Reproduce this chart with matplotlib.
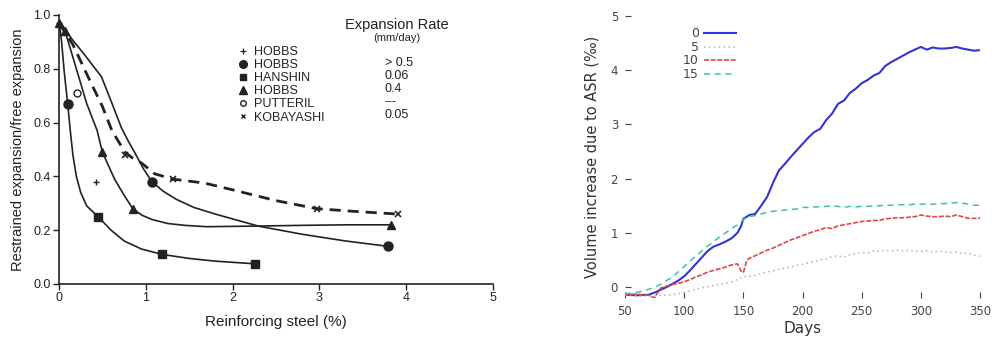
import numpy as np
import matplotlib.pyplot as plt
from matplotlib.lines import Line2D

# ---- left panel: restrained expansion vs reinforcing steel ----
# measured points
hobbs_plus_x = [0.0, 0.43]
hobbs_plus_y = [0.97, 0.38]
hobbs_circ_x = [0.10, 1.07, 3.79]
hobbs_circ_y = [0.67, 0.38, 0.14]
hanshin_x = [0.45, 1.19, 2.26]
hanshin_y = [0.25, 0.11, 0.075]
hobbs_tri_x = [0.0, 0.07, 0.50, 0.85, 3.82]
hobbs_tri_y = [0.97, 0.94, 0.49, 0.28, 0.22]
putteril_x = [0.21]
putteril_y = [0.71]
koba_x = [0.76, 1.31, 2.97, 3.90]
koba_y = [0.48, 0.39, 0.28, 0.26]

# hand-drawn fit curves
curve_sq_x = [0.0, 0.03, 0.06, 0.10, 0.13, 0.16, 0.20, 0.25, 0.32, 0.45, 0.60, 0.75, 0.95, 1.19, 1.50, 1.80, 2.26]
curve_sq_y = [0.98, 0.90, 0.79, 0.67, 0.57, 0.48, 0.40, 0.34, 0.29, 0.25, 0.20, 0.16, 0.13, 0.11, 0.095, 0.085, 0.075]
curve_tri_x = [0.0, 0.07, 0.20, 0.32, 0.44, 0.50, 0.57, 0.64, 0.75, 0.85, 0.96, 1.07, 1.25, 1.45, 1.70, 2.20, 2.80, 3.30, 3.82]
curve_tri_y = [0.98, 0.94, 0.80, 0.67, 0.57, 0.49, 0.44, 0.39, 0.33, 0.28, 0.255, 0.24, 0.225, 0.218, 0.213, 0.215, 0.218, 0.22, 0.22]
curve_up_x = [0.0, 0.15, 0.30, 0.49, 0.60, 0.72, 0.80, 0.87, 0.97, 1.07, 1.20, 1.35, 1.55, 1.80, 2.30, 2.80, 3.30, 3.79]
curve_up_y = [0.98, 0.91, 0.85, 0.77, 0.68, 0.58, 0.53, 0.49, 0.43, 0.38, 0.345, 0.315, 0.285, 0.26, 0.215, 0.185, 0.16, 0.14]
curve_da_x = [0.0, 0.16, 0.35, 0.50, 0.61, 0.76, 0.84, 0.95, 1.10, 1.31, 1.68, 2.00, 2.50, 2.97, 3.40, 3.90]
curve_da_y = [0.97, 0.89, 0.76, 0.66, 0.57, 0.49, 0.47, 0.45, 0.41, 0.39, 0.375, 0.35, 0.31, 0.28, 0.27, 0.26]

legend_names = ["HOBBS", "HOBBS", "HANSHIN", "HOBBS", "PUTTERIL", "KOBAYASHI"]
legend_rates = ["", "> 0.5", "0.06", "0.4", "---", "0.05"]

# ---- right panel: volume increase due to ASR ----
days = [50, 60, 70, 75, 80, 85, 90, 95, 100, 105, 110, 115, 120, 125, 130, 135, 140, 145, 148, 150,
        153, 155, 160, 165, 170, 175, 180, 185, 190, 195, 200, 205, 210, 215, 220, 225, 230, 235,
        240, 245, 250, 255, 260, 265, 270, 275, 280, 285, 290, 295, 300, 305, 310, 315, 320, 325,
        330, 335, 340, 345, 350]
vol_0 = [-0.14, -0.15, -0.14, -0.10, -0.05, 0.00, 0.06, 0.12, 0.20, 0.31, 0.43, 0.55, 0.67, 0.75, 0.79, 0.84, 0.90, 1.00, 1.12, 1.26,
         1.30, 1.33, 1.35, 1.50, 1.66, 1.92, 2.15, 2.27, 2.40, 2.52, 2.64, 2.76, 2.86, 2.92, 3.08, 3.20, 3.38, 3.44,
         3.58, 3.66, 3.76, 3.82, 3.90, 3.95, 4.08, 4.15, 4.21, 4.27, 4.33, 4.38, 4.43, 4.38, 4.42, 4.40, 4.40, 4.41,
         4.43, 4.40, 4.38, 4.36, 4.37]
vol_5 = [-0.15, -0.16, -0.16, -0.16, -0.15, -0.15, -0.14, -0.12, -0.10, -0.07, -0.04, -0.01, 0.01, 0.03, 0.05, 0.07, 0.10, 0.14, 0.17, 0.20,
         0.19, 0.20, 0.22, 0.25, 0.28, 0.30, 0.33, 0.35, 0.37, 0.40, 0.42, 0.45, 0.47, 0.50, 0.52, 0.56, 0.58, 0.55,
         0.60, 0.62, 0.64, 0.63, 0.67, 0.66, 0.68, 0.67, 0.68, 0.67, 0.68, 0.66, 0.66, 0.67, 0.65, 0.66, 0.65, 0.64,
         0.64, 0.62, 0.63, 0.59, 0.57]
vol_10 = [-0.13, -0.13, -0.15, -0.20, -0.02, 0.02, 0.05, 0.07, 0.10, 0.14, 0.19, 0.23, 0.28, 0.31, 0.34, 0.37, 0.41, 0.43, 0.30, 0.27,
          0.50, 0.53, 0.58, 0.63, 0.68, 0.72, 0.77, 0.82, 0.87, 0.91, 0.95, 0.99, 1.03, 1.06, 1.10, 1.08, 1.13, 1.15,
          1.17, 1.19, 1.21, 1.22, 1.23, 1.23, 1.26, 1.27, 1.28, 1.28, 1.29, 1.30, 1.33, 1.31, 1.30, 1.30, 1.31, 1.30,
          1.33, 1.30, 1.27, 1.27, 1.27]
vol_15 = [-0.12, -0.10, -0.04, 0.00, 0.05, 0.12, 0.19, 0.28, 0.38, 0.48, 0.58, 0.67, 0.76, 0.84, 0.93, 1.00, 1.08, 1.15, 1.20, 1.25,
          1.28, 1.30, 1.32, 1.35, 1.38, 1.40, 1.41, 1.42, 1.43, 1.44, 1.47, 1.47, 1.48, 1.48, 1.49, 1.50, 1.49, 1.47,
          1.49, 1.48, 1.49, 1.49, 1.50, 1.50, 1.51, 1.51, 1.52, 1.52, 1.52, 1.53, 1.53, 1.53, 1.53, 1.54, 1.54, 1.55,
          1.56, 1.55, 1.53, 1.51, 1.51]

fig = plt.figure(figsize=(9.95, 3.42), dpi=100)
W, H = 995.0, 342.0

# left axes
ax1 = fig.add_axes([59 / W, 58 / H, 434 / W, 269 / H])
lf = "Liberation Sans"
k = "#222222"
ax1.plot(curve_sq_x, curve_sq_y, color=k, lw=1.2)
ax1.plot(curve_tri_x, curve_tri_y, color=k, lw=1.2)
ax1.plot(curve_up_x, curve_up_y, color=k, lw=1.2)
ax1.plot(curve_da_x, curve_da_y, color=k, lw=2.0, dashes=(4, 2.5))
ax1.plot(hobbs_plus_x, hobbs_plus_y, ls="none", marker="+", ms=5, mew=1.0, color=k, clip_on=False)
ax1.plot(hobbs_circ_x, hobbs_circ_y, ls="none", marker="o", ms=6.5, color=k, clip_on=False)
ax1.plot(hanshin_x, hanshin_y, ls="none", marker="s", ms=6, color=k, clip_on=False)
ax1.plot(hobbs_tri_x, hobbs_tri_y, ls="none", marker="^", ms=6, color=k, clip_on=False)
ax1.plot(putteril_x, putteril_y, ls="none", marker="o", ms=5, mfc="white", mec=k, mew=1.0)
ax1.plot(koba_x, koba_y, ls="none", marker="x", ms=4.5, mew=1.2, color=k, clip_on=False)

ax1.set_xlim(0, 5)
ax1.set_ylim(0, 1.0)
ax1.set_xticks([0, 1, 2, 3, 4, 5])
ax1.set_yticks([0.0, 0.2, 0.4, 0.6, 0.8, 1.0])
ax1.set_yticklabels(["0.0", "0.2", "0.4", "0.6", "0.8", "1.0"])
for s in ["top", "right"]:
    ax1.spines[s].set_visible(False)
for s in ["left", "bottom"]:
    ax1.spines[s].set_linewidth(1.2)
    ax1.spines[s].set_color(k)
ax1.tick_params(length=4, width=1.0, colors=k, labelsize=9, pad=2)
for lab in ax1.get_xticklabels() + ax1.get_yticklabels():
    lab.set_fontfamily(lf)
ax1.set_xlabel("Reinforcing steel (%)", fontsize=11, family=lf, color=k, labelpad=8)
ax1.set_ylabel("Restrained expansion/free expansion", fontsize=10.5, family=lf, color=k, labelpad=6)

handles = [
    Line2D([], [], ls="none", marker="+", ms=4, mew=0.9, color=k),
    Line2D([], [], ls="none", marker="o", ms=5.5, color=k),
    Line2D([], [], ls="none", marker="s", ms=5, color=k),
    Line2D([], [], ls="none", marker="^", ms=5.5, color=k),
    Line2D([], [], ls="none", marker="o", ms=4, mfc="white", mec=k),
    Line2D([], [], ls="none", marker="x", ms=3, mew=1.0, color=k),
]
leg = ax1.legend(handles, legend_names, loc="upper left", bbox_to_anchor=(0.39, 0.922),
                 frameon=False, handlelength=0.8, handletextpad=0.45, labelspacing=0.09,
                 borderpad=0.3, prop={"family": lf, "size": 9})
for t in leg.get_texts():
    t.set_color(k)
row_y = [0.870, 0.822, 0.773, 0.725, 0.677, 0.628]
for r, y in zip(legend_rates, row_y):
    ax1.text(0.751, y, r, transform=ax1.transAxes, fontsize=9, family=lf, color=k, va="center")
ax1.text(0.779, 0.962, "Expansion Rate", transform=ax1.transAxes, fontsize=10.5, family=lf,
         color=k, ha="center", va="center")
ax1.text(0.779, 0.914, "(mm/day)", transform=ax1.transAxes, fontsize=8, family=lf,
         color=k, ha="center", va="center")

# right axes
ax2 = fig.add_axes([625 / W, 44 / H, 355 / W, 282 / H])
ax2.plot(days, vol_0, color="#3434d4", lw=1.5, label="0")
ax2.plot(days, vol_5, color="#9cc09c", lw=1.1, ls=(0, (1, 2.2)), label="5")
ax2.plot(days, vol_10, color="#e04848", lw=1.2, ls=(0, (3, 1)), label="10")
ax2.plot(days, vol_15, color="#40bfae", lw=1.1, ls=(0, (4, 3)), label="15")
ax2.set_xlim(50, 350)
ax2.set_ylim(-0.2, 5)
ax2.set_xticks([50, 100, 150, 200, 250, 300, 350])
ax2.set_yticks([0, 1, 2, 3, 4, 5])
for s in ax2.spines.values():
    s.set_visible(False)
ax2.tick_params(direction="in", length=4, width=0.8, colors="#444444", labelsize=8.5, pad=5)
ax2.set_xlabel("Days", fontsize=11, color="#333333", labelpad=2)
ax2.set_ylabel("Volume increase due to ASR (‰)", fontsize=10.5, color="#333333", labelpad=8)
leg2 = ax2.legend(loc="upper right", bbox_to_anchor=(0.345, 1.0), frameon=False, markerfirst=False,
                  handlelength=2.6, handletextpad=0.4, labelspacing=0.05, fontsize=9)
for t in leg2.get_texts():
    t.set_color("#444444")

fig.savefig("out.png", dpi=100)
